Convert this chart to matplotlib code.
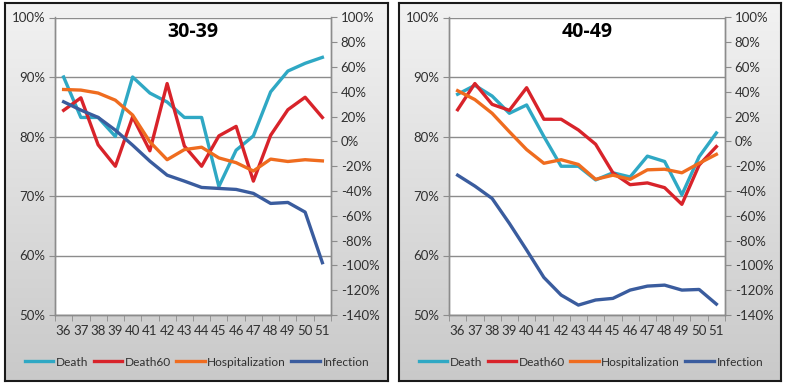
import matplotlib
matplotlib.use("Agg")
import matplotlib.pyplot as plt
import numpy as np
from matplotlib.colors import LinearSegmentedColormap

plt.rcParams['font.family'] = ['Lato', 'DejaVu Sans']

weeks = ["36", "37", "38", "39", "40", "41", "42", "43", "44", "45", "46", "47", "48", "49", "50", "51"]

# Panel 30-39 (left axis: %, right axis: %)
death_3039 = [90.0, 83.2, 83.2, 80.0, 90.0, 87.3, 85.8, 83.2, 83.2, 71.6, 77.7, 80.1, 87.5, 91.0, 92.3, 93.3]
death60_3039 = [84.4, 86.5, 78.6, 75.0, 83.3, 77.6, 88.9, 78.4, 75.0, 80.1, 81.7, 72.5, 80.2, 84.5, 86.6, 83.2]
hosp_3039 = [87.9, 87.8, 87.3, 86.1, 83.6, 79.1, 76.1, 77.8, 78.2, 76.4, 75.6, 74.2, 76.2, 75.8, 76.1, 75.9]
infection_3039 = [32.0, 25.3, 19.4, 9.1, -3.0, -15.9, -27.2, -32.0, -37.1, -37.9, -38.7, -41.9, -50.0, -49.2, -57.0, -97.8]

# Panel 40-49
death_4049 = [87.1, 88.6, 86.8, 83.9, 85.3, 80.0, 75.0, 75.0, 72.7, 73.9, 73.2, 76.7, 75.8, 70.2, 76.6, 80.6]
death60_4049 = [84.5, 88.9, 85.4, 84.4, 88.2, 82.9, 82.9, 81.1, 78.7, 73.9, 71.9, 72.2, 71.4, 68.6, 75.2, 78.3]
hosp_4049 = [87.7, 86.2, 83.9, 80.8, 77.8, 75.5, 76.1, 75.3, 72.8, 73.5, 72.8, 74.4, 74.5, 73.9, 75.5, 77.0]
infection_4049 = [-27.2, -36.0, -46.0, -66.1, -87.6, -109.7, -123.9, -132.0, -127.9, -126.6, -119.9, -116.7, -115.9, -119.9, -119.4, -131.2]

titles = ["30-39", "40-49"]
series_names = ["Death", "Death60", "Hospitalization", "Infection"]
colors = ["#2FA8C4", "#D8232A", "#EF6C1F", "#3A5C9E"]

W, H = 786, 388
fig = plt.figure(figsize=(W / 100, H / 100), dpi=100)
fig.patch.set_facecolor("white")

panels = [
    dict(box=(5, 3, 388, 381), plot=(55, 17.5, 331, 315), legend_cx=197,
         data=(death_3039, death60_3039, hosp_3039, infection_3039)),
    dict(box=(399, 3, 781, 381), plot=(449, 17.5, 725, 315), legend_cx=591,
         data=(death_4049, death60_4049, hosp_4049, infection_4049)),
]

grad = np.linspace(0, 1, 256).reshape(-1, 1)
cmap = LinearSegmentedColormap.from_list("bg", ["#F2F2F2", "#C9C9C9"])

text_color = "#303030"
grid_color = "#8C8C8C"
fs = 9.5
lfs = 8.6

for i, p in enumerate(panels):
    x0, y0, x1, y1 = p["box"]
    bg = fig.add_axes([x0 / W, 1 - y1 / H, (x1 - x0) / W, (y1 - y0) / H], zorder=0)
    bg.imshow(grad, aspect="auto", cmap=cmap, extent=[0, 1, 0, 1], origin="upper")
    bg.set_xticks([]); bg.set_yticks([])
    for s in bg.spines.values():
        s.set_color("#1A1A1A"); s.set_linewidth(1.5)

    px0, py0, px1, py1 = p["plot"]
    ax = fig.add_axes([px0 / W, 1 - py1 / H, (px1 - px0) / W, (py1 - py0) / H], zorder=2)
    ax.set_facecolor("white")
    ax2 = ax.twinx()
    x = np.arange(len(weeks))
    d, d60, h, inf = p["data"]
    lw = 2.4
    ax.plot(x, d, color=colors[0], lw=lw, label=series_names[0], solid_joinstyle="round", zorder=3)
    ax.plot(x, d60, color=colors[1], lw=lw, label=series_names[1], solid_joinstyle="round", zorder=3)
    ax.plot(x, h, color=colors[2], lw=lw, label=series_names[2], solid_joinstyle="round", zorder=3)
    ax2.plot(x, inf, color=colors[3], lw=lw, label=series_names[3], solid_joinstyle="round", zorder=3)

    ax.set_xlim(-0.5, len(weeks) - 0.5)
    ax.set_ylim(50, 100)
    ax2.set_ylim(-140, 100)
    ax.set_yticks(np.arange(50, 101, 10))
    ax.set_yticklabels([f"{v}%" for v in range(50, 101, 10)])
    ax2.set_yticks(np.arange(-140, 101, 20))
    ax2.set_yticklabels([f"{v}%" for v in range(-140, 101, 20)])
    ax.set_xticks(x)
    ax.set_xticklabels(weeks)
    ax.set_xticks(np.arange(-0.5, len(weeks), 1), minor=True)
    ax.tick_params(axis="x", which="major", length=0, pad=7, labelsize=fs, colors=text_color)
    ax.tick_params(axis="x", which="minor", length=4, color=grid_color, direction="out")
    ax.tick_params(axis="y", length=4, color=grid_color, labelsize=fs, labelcolor=text_color, pad=3)
    ax2.tick_params(axis="y", length=4, color=grid_color, labelsize=fs, labelcolor=text_color, pad=3)
    ax.grid(axis="y", color=grid_color, lw=1)
    ax.set_axisbelow(True)
    ax.spines["top"].set_visible(False); ax2.spines["top"].set_visible(False)
    for a in (ax, ax2):
        for s in ["left", "right", "bottom"]:
            a.spines[s].set_color(grid_color)
            a.spines[s].set_linewidth(1)
    ax.text(0.5, 0.985, titles[i], transform=ax.transAxes, ha="center", va="top",
            fontsize=14, fontweight="bold", family=["Open Sans", "DejaVu Sans"], color="black")

    handles = ax.get_lines() + ax2.get_lines()
    fig.legend(handles, series_names, loc="center",
               bbox_to_anchor=(p["legend_cx"] / W, 1 - 362 / H), ncol=4, frameon=False,
               fontsize=lfs, handlelength=2.4, handletextpad=0.2, columnspacing=0.45,
               labelcolor=text_color)

fig.savefig("out.png", dpi=100)
